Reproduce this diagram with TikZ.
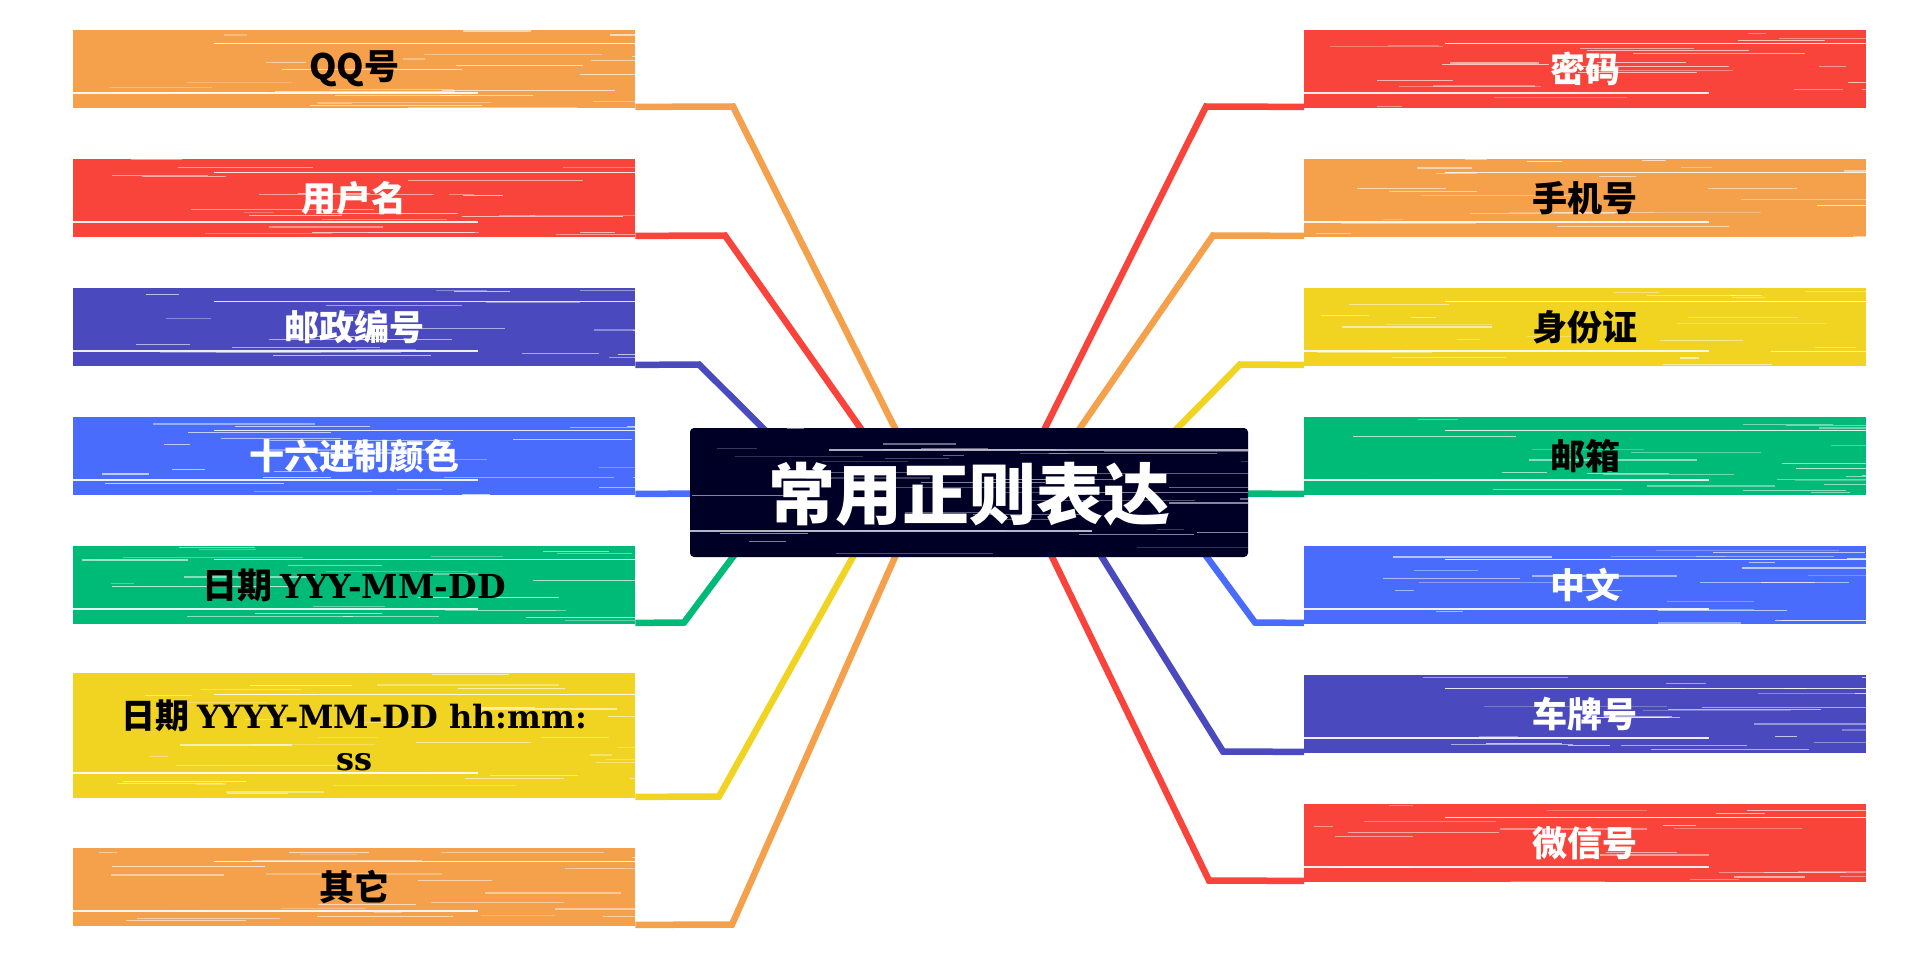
\documentclass[tikz,border=0pt]{standalone}
\usepackage{fontspec}
\newfontfamily\cjk{Noto Sans CJK SC}
\newfontfamily\slab{DejaVu Serif}
\usetikzlibrary{calc}
\pgfdeclarelayer{bg}
\pgfsetlayers{bg,main}
\definecolor{corange}{RGB}{245,160,75}
\definecolor{cred}{RGB}{249,68,60}
\definecolor{cindigo}{RGB}{74,74,190}
\definecolor{cblue}{RGB}{74,108,253}
\definecolor{cgreen}{RGB}{0,187,120}
\definecolor{cyellow}{RGB}{241,211,33}
\definecolor{cnavy}{RGB}{0,0,38}
\definecolor{cstreak}{RGB}{200,200,215}

\newcommand\brushstreaks[3]{%
  \foreach \k in {1,...,#3}{%
    \pgfmathsetmacro\fy{rnd}%
    \pgfmathsetmacro\fx{rnd}%
    \pgfmathsetmacro\fe{min(1,\fx+0.03+0.3*rnd)}%
    \pgfmathsetmacro\lw{0.5+1.0*rnd}%
    \pgfmathsetmacro\op{0.25+0.45*rnd}%
    \draw[#2, line width=\lw pt, opacity=\op] let \p1=(#1.south west), \p2=(#1.north east) in
      ({\x1+\fx*(\x2-\x1)},{\y1+\fy*(\y2-\y1)}) -- ({\x1+\fe*(\x2-\x1)},{\y1+\fy*(\y2-\y1)});
  }%
  \draw[#2, line width=2pt, opacity=0.9] let \p1=(#1.south west), \p2=(#1.north east) in
      (\x1,{\y1+0.2*(\y2-\y1)}) -- ({\x1+0.72*(\x2-\x1)},{\y1+0.2*(\y2-\y1)});
  \draw[#2, line width=1.6pt, opacity=0.85] let \p1=(#1.south west), \p2=(#1.north east) in
      ({\x1+0.25*(\x2-\x1)},{\y1+0.83*(\y2-\y1)}) -- (\x2,{\y1+0.83*(\y2-\y1)});
}

\tikzset{
  lbox/.style={rectangle, fill=#1, minimum width=562pt, minimum height=78pt, inner sep=0pt, anchor=north west},
  rootbox/.style={rectangle, fill=cnavy, rounded corners=4pt, minimum width=558pt, minimum height=129pt, inner sep=0pt},
  ltext/.style={font=\cjk\bfseries\fontsize{35}{52}\selectfont, align=center, inner sep=0pt},
  roottext/.style={font=\cjk\bfseries\fontsize{67}{72}\selectfont, text=white, inner sep=0pt},
  conn/.style={line width=6.5pt, line join=miter},
}

\begin{document}
\begin{tikzpicture}[x=1pt,y=-1pt]
\pgfmathsetseed{4242}
\useasboundingbox (0,0) rectangle (1931,960);
\begin{pgfonlayer}{bg}
\fill[white] (0,0) rectangle (1931,960);
\end{pgfonlayer}

% boxes
\node[rootbox] (root) at (969,492.5) {};
\node[lbox=corange] (qq) at (73,30) {};
\node[lbox=cred] (user) at (73,159) {};
\node[lbox=cindigo] (post) at (73,288) {};
\node[lbox=cblue] (hex) at (73,417) {};
\node[lbox=cgreen] (date1) at (73,546) {};
\node[lbox=cyellow, minimum height=125pt] (date2) at (73,673) {};
\node[lbox=corange] (other) at (73,848) {};

\node[lbox=cred] (pwd) at (1304,30) {};
\node[lbox=corange] (phone) at (1304,159) {};
\node[lbox=cyellow] (idc) at (1304,288) {};
\node[lbox=cgreen] (mail) at (1304,417) {};
\node[lbox=cblue] (zh) at (1304,546) {};
\node[lbox=cindigo] (car) at (1304,675) {};
\node[lbox=cred] (wx) at (1304,804) {};

% brush streaks
\brushstreaks{root}{cstreak}{40}
\brushstreaks{qq}{white}{24}
\brushstreaks{user}{white}{24}
\brushstreaks{post}{white}{24}
\brushstreaks{hex}{white}{24}
\brushstreaks{date1}{white}{24}
\brushstreaks{date2}{white}{34}
\brushstreaks{other}{white}{24}
\brushstreaks{pwd}{white}{24}
\brushstreaks{phone}{white}{24}
\brushstreaks{idc}{white}{24}
\brushstreaks{mail}{white}{24}
\brushstreaks{zh}{white}{24}
\brushstreaks{car}{white}{24}
\brushstreaks{wx}{white}{24}

% texts
\node[roottext] (roott) at (969,494) {常用正则表达};
\node[ltext, text=black] (qqt) at (qq.center) {QQ号};
\node[ltext, text=white] (usert) at (user.center) {用户名};
\node[ltext, text=white] (postt) at (post.center) {邮政编号};
\node[ltext, text=white] (hext) at (hex.center) {十六进制颜色};
\node[ltext, text=black] (date1t) at (date1.center) {日期 {\slab\bfseries\fontsize{33}{48}\selectfont YYY-MM-DD}};
\node[ltext, text=black, font=\cjk\bfseries\fontsize{34}{42}\selectfont] (date2t) at (date2.center) {日期 {\slab\bfseries\fontsize{32}{42}\selectfont YYYY-MM-DD hh:mm:}\\{\slab\bfseries\fontsize{32}{42}\selectfont ss}};
\node[ltext, text=black] (othert) at (other.center) {其它};
\node[ltext, text=white] (pwdt) at (pwd.center) {密码};
\node[ltext, text=black] (phonet) at (phone.center) {手机号};
\node[ltext, text=black] (idct) at (idc.center) {身份证};
\node[ltext, text=black] (mailt) at (mail.center) {邮箱};
\node[ltext, text=white] (zht) at (zh.center) {中文};
\node[ltext, text=white] (cart) at (car.center) {车牌号};
\node[ltext, text=white] (wxt) at (wx.center) {微信号};

% connector coordinates
\coordinate (e1) at (733,106.5);  \coordinate (t1) at (911,460);
\coordinate (e2) at (725,235.5);  \coordinate (t2) at (883,460);
\coordinate (e3) at (699,364.5);  \coordinate (t3) at (795,460);
\coordinate (t4) at (720,493.5);
\coordinate (e5) at (684,622.5);  \coordinate (t5) at (753,530);
\coordinate (e6) at (719,796.5);  \coordinate (t6) at (868,530);
\coordinate (e7) at (732,924.5);  \coordinate (t7) at (907,530);
\coordinate (e8) at (1206,106.5); \coordinate (t8) at (1029,460);
\coordinate (e9) at (1213,235.5); \coordinate (t9) at (1058,460);
\coordinate (e10) at (1240,364.5); \coordinate (t10) at (1146,460);
\coordinate (t11) at (1220,493.5);
\coordinate (e12) at (1255,622.5); \coordinate (t12) at (1187,530);
\coordinate (e13) at (1223,751.5); \coordinate (t13) at (1085,530);
\coordinate (e14) at (1209,880.5); \coordinate (t14) at (1039,530);

\begin{pgfonlayer}{bg}
\draw[conn, corange] ([yshift=1.5pt]qq.south east) -- (e1) -- (t1);
\draw[conn, cred] ([yshift=1.5pt]user.south east) -- (e2) -- (t2);
\draw[conn, cindigo] ([yshift=1.5pt]post.south east) -- (e3) -- (t3);
\draw[conn, cblue] ([yshift=1.5pt]hex.south east) -- (t4);
\draw[conn, cgreen] ([yshift=1.5pt]date1.south east) -- (e5) -- (t5);
\draw[conn, cyellow] ([yshift=1.5pt]date2.south east) -- (e6) -- (t6);
\draw[conn, corange] ([yshift=1.5pt]other.south east) -- (e7) -- (t7);
\draw[conn, cred] ([yshift=1.5pt]pwd.south west) -- (e8) -- (t8);
\draw[conn, corange] ([yshift=1.5pt]phone.south west) -- (e9) -- (t9);
\draw[conn, cyellow] ([yshift=1.5pt]idc.south west) -- (e10) -- (t10);
\draw[conn, cgreen] ([yshift=1.5pt]mail.south west) -- (t11);
\draw[conn, cblue] ([yshift=1.5pt]zh.south west) -- (e12) -- (t12);
\draw[conn, cindigo] ([yshift=1.5pt]car.south west) -- (e13) -- (t13);
\draw[conn, cred] ([yshift=1.5pt]wx.south west) -- (e14) -- (t14);
\end{pgfonlayer}
\end{tikzpicture}
\end{document}
